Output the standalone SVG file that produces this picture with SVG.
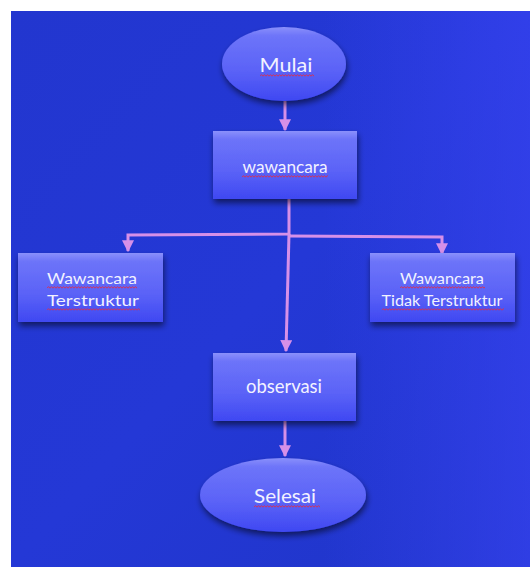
<svg xmlns="http://www.w3.org/2000/svg" width="530" height="567" viewBox="0 0 530 567">
<defs>
<linearGradient id="bg" x1="0" y1="0" x2="1" y2="1">
<stop offset="0" stop-color="#2236cf"/>
<stop offset="0.5" stop-color="#2438d6"/>
<stop offset="1" stop-color="#1f35c8"/>
</linearGradient>
<linearGradient id="bgr" x1="0" y1="0" x2="1" y2="0">
<stop offset="0.6" stop-color="#3a44f6" stop-opacity="0"/>
<stop offset="1" stop-color="#3a44f6" stop-opacity="0.6"/>
</linearGradient>
<linearGradient id="nodefill" x1="0" y1="0" x2="0" y2="1">
<stop offset="0" stop-color="#8a90fb"/>
<stop offset="0.12" stop-color="#6d74f9"/>
<stop offset="0.6" stop-color="#5a62f7"/>
<stop offset="1" stop-color="#3f48f2"/>
</linearGradient>
<filter id="sh" x="-20%" y="-20%" width="140%" height="150%">
<feGaussianBlur in="SourceAlpha" stdDeviation="3"/>
<feOffset dx="1" dy="4" result="b"/>
<feComponentTransfer><feFuncA type="linear" slope="0.55"/></feComponentTransfer>
<feMerge><feMergeNode/><feMergeNode in="SourceGraphic"/></feMerge>
</filter>
<marker id="ah" viewBox="0 0 10 10" refX="9" refY="5" markerWidth="4" markerHeight="4" orient="auto" markerUnits="strokeWidth">
<path d="M0,0 L10,5 L0,10 z" fill="#d690e8"/>
</marker>
<path id="zz" fill="none" stroke="#e0304a" stroke-width="0.9" d="M0,2.2 l1.5,-1.6 l1.5,1.6 l1.5,-1.6 l1.5,1.6 l1.5,-1.6 l1.5,1.6 l1.5,-1.6 l1.5,1.6 l1.5,-1.6 l1.5,1.6 l1.5,-1.6 l1.5,1.6 l1.5,-1.6 l1.5,1.6 l1.5,-1.6 l1.5,1.6 l1.5,-1.6 l1.5,1.6 l1.5,-1.6 l1.5,1.6 l1.5,-1.6 l1.5,1.6 l1.5,-1.6 l1.5,1.6 l1.5,-1.6 l1.5,1.6 l1.5,-1.6 l1.5,1.6 l1.5,-1.6 l1.5,1.6 l1.5,-1.6 l1.5,1.6 l1.5,-1.6 l1.5,1.6 l1.5,-1.6 l1.5,1.6 l1.5,-1.6 l1.5,1.6 l1.5,-1.6 l1.5,1.6 l1.5,-1.6 l1.5,1.6 l1.5,-1.6 l1.5,1.6 l1.5,-1.6 l1.5,1.6 l1.5,-1.6 l1.5,1.6 l1.5,-1.6 l1.5,1.6 l1.5,-1.6 l1.5,1.6 l1.5,-1.6 l1.5,1.6 l1.5,-1.6 l1.5,1.6 l1.5,-1.6 l1.5,1.6 l1.5,-1.6 l1.5,1.6 l1.5,-1.6 l1.5,1.6 l1.5,-1.6 l1.5,1.6 l1.5,-1.6 l1.5,1.6 l1.5,-1.6 l1.5,1.6 l1.5,-1.6 l1.5,1.6 l1.5,-1.6 l1.5,1.6 l1.5,-1.6 l1.5,1.6 l1.5,-1.6 l1.5,1.6 l1.5,-1.6 l1.5,1.6 l1.5,-1.6 l1.5,1.6 l1.5,-1.6 l1.5,1.6 l1.5,-1.6 l1.5,1.6"/>
</defs>
<style>
.node{fill:url(#nodefill);filter:url(#sh)}
.lbl{font-family:Lato,"Open Sans","Liberation Sans",sans-serif;fill:#f2f2ff;text-anchor:middle}
.conn{fill:none;stroke:#d690e8;stroke-width:3}
</style>
<rect x="11" y="11" width="519" height="556" fill="url(#bg)"/>
<rect x="11" y="11" width="519" height="556" fill="url(#bgr)"/>

<g id="connectors">
<path class="conn" d="M285,101 L285,130" marker-end="url(#ah)"/>
<path class="conn" d="M289,199 L289,234 L128,235 L128,251" marker-end="url(#ah)"/>
<path class="conn" d="M289,236 L442,237 L442,254" marker-end="url(#ah)"/>
<path class="conn" d="M289,234 L286,351" marker-end="url(#ah)"/>
<path class="conn" d="M285,421 L285,456" marker-end="url(#ah)"/>
</g>

<g id="mulai">
<ellipse class="node" cx="284" cy="64" rx="62" ry="37"/>
<text class="lbl" x="286" y="72" font-size="20" textLength="53" lengthAdjust="spacingAndGlyphs">Mulai</text>
<svg x="260" y="74" width="54" height="4"><use href="#zz"/></svg>
</g>

<g id="wawancara">
<rect class="node" x="213" y="131" width="144" height="68"/>
<text class="lbl" x="285" y="173" font-size="18" textLength="85" lengthAdjust="spacingAndGlyphs">wawancara</text>
<svg x="242" y="175" width="86" height="4"><use href="#zz"/></svg>
</g>

<g id="terstruktur">
<rect class="node" x="18" y="253" width="145" height="69"/>
<text class="lbl" x="92" y="284" font-size="16" textLength="90" lengthAdjust="spacingAndGlyphs">Wawancara</text>
<svg x="47" y="286" width="90" height="4"><use href="#zz"/></svg>
<text class="lbl" x="93" y="306" font-size="16" textLength="92" lengthAdjust="spacingAndGlyphs">Terstruktur</text>
<svg x="47" y="308" width="93" height="4"><use href="#zz"/></svg>
</g>

<g id="tidak-terstruktur">
<rect class="node" x="370" y="253" width="145" height="69"/>
<text class="lbl" x="442" y="284" font-size="16" textLength="84" lengthAdjust="spacingAndGlyphs">Wawancara</text>
<svg x="400" y="286" width="85" height="4"><use href="#zz"/></svg>
<text class="lbl" x="442" y="306" font-size="16" textLength="121" lengthAdjust="spacingAndGlyphs">Tidak Terstruktur</text>
<svg x="382" y="308" width="122" height="4"><use href="#zz"/></svg>
</g>

<g id="observasi">
<rect class="node" x="213" y="353" width="143" height="68"/>
<text class="lbl" x="284" y="393" font-size="20" textLength="76" lengthAdjust="spacingAndGlyphs">observasi</text>
</g>

<g id="selesai">
<ellipse class="node" cx="283" cy="495" rx="83" ry="37"/>
<text class="lbl" x="285" y="503" font-size="20" textLength="62" lengthAdjust="spacingAndGlyphs">Selesai</text>
<svg x="254" y="505" width="66" height="4"><use href="#zz"/></svg>
</g>
</svg>
